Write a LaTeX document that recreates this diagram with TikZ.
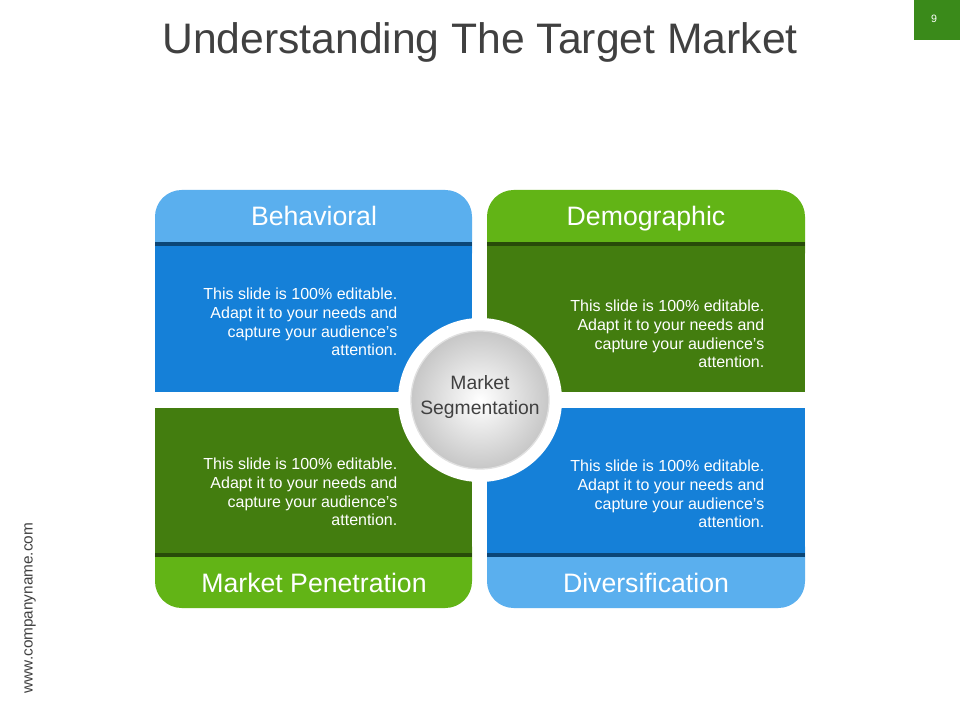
\documentclass[tikz,border=0pt]{standalone}
\usepackage{fontspec}
\setmainfont{Liberation Sans}
\begin{document}
\begin{tikzpicture}[x=0.75pt,y=-0.75pt]
\definecolor{lblue}{HTML}{5AAFEE}
\definecolor{mblue}{HTML}{1580D8}
\definecolor{lgreen}{HTML}{62B416}
\definecolor{dgreen}{HTML}{437D0F}
\definecolor{pgreen}{HTML}{3A8A1A}
\definecolor{ttl}{HTML}{404040}
\tikzset{
  body/.style={anchor=east,align=right,text=white,font=\fontsize{12pt}{14pt}\selectfont},
  hdr/.style={anchor=base,text=white,font=\fontsize{20pt}{22pt}\selectfont},
}
\useasboundingbox[fill=white] (0,0) rectangle (960,720);
\node[text=ttl,font=\fontsize{32pt}{36pt}\selectfont] (title) at (480,42) {Understanding The Target Market};
\fill[pgreen] (914,0) rectangle (960,40);
\node[text=white,font=\fontsize{8pt}{9pt}\selectfont] (pg) at (934,19) {9};
\node[rotate=90,text=ttl,font=\fontsize{11.5pt}{12pt}\selectfont] (web) at (30,608) {www.companyname.com};
% headers / footers
\fill[lblue, rounded corners=20] (155,190) rectangle (472,280);
\fill[lgreen, rounded corners=20] (487,190) rectangle (805,280);
\fill[lgreen, rounded corners=20] (155,520) rectangle (472,608);
\fill[lblue, rounded corners=20] (487,520) rectangle (805,608);
% bodies
\fill[mblue] (155,245) rectangle (472,392);
\fill[black!45!mblue] (155,242) rectangle (472,246);
\fill[dgreen] (487,245) rectangle (805,392);
\fill[black!40!dgreen] (487,242) rectangle (805,246);
\fill[dgreen] (155,408) rectangle (472,556);
\fill[black!40!dgreen] (155,553) rectangle (472,557);
\fill[mblue] (487,408) rectangle (805,556);
\fill[black!45!mblue] (487,553) rectangle (805,557);
\node[hdr] (h1) at (314,226) {Behavioral};
\node[hdr] (h2) at (646,226) {Demographic};
\node[hdr] (h3) at (314,592) {Market Penetration};
\node[hdr] (h4) at (646,592) {Diversification};
\node[body] (t1) at (402,322) {This slide is 100\% editable.\\Adapt it to your needs and\\capture your audience's\\attention.};
\node[body] (t2) at (769,334) {This slide is 100\% editable.\\Adapt it to your needs and\\capture your audience's\\attention.};
\node[body] (t3) at (402,492) {This slide is 100\% editable.\\Adapt it to your needs and\\capture your audience's\\attention.};
\node[body] (t4) at (769,494) {This slide is 100\% editable.\\Adapt it to your needs and\\capture your audience's\\attention.};
\fill[white] (480,400) circle[radius=82];
\shade[inner color=white,outer color=black!22] (480,400) circle[radius=69];
\draw[black!12,line width=1pt] (480,400) circle[radius=69];
\node[align=center,text=ttl,font=\fontsize{14.5pt}{18pt}\selectfont] (c) at (480,397) {Market\\Segmentation};
\end{tikzpicture}
\end{document}
